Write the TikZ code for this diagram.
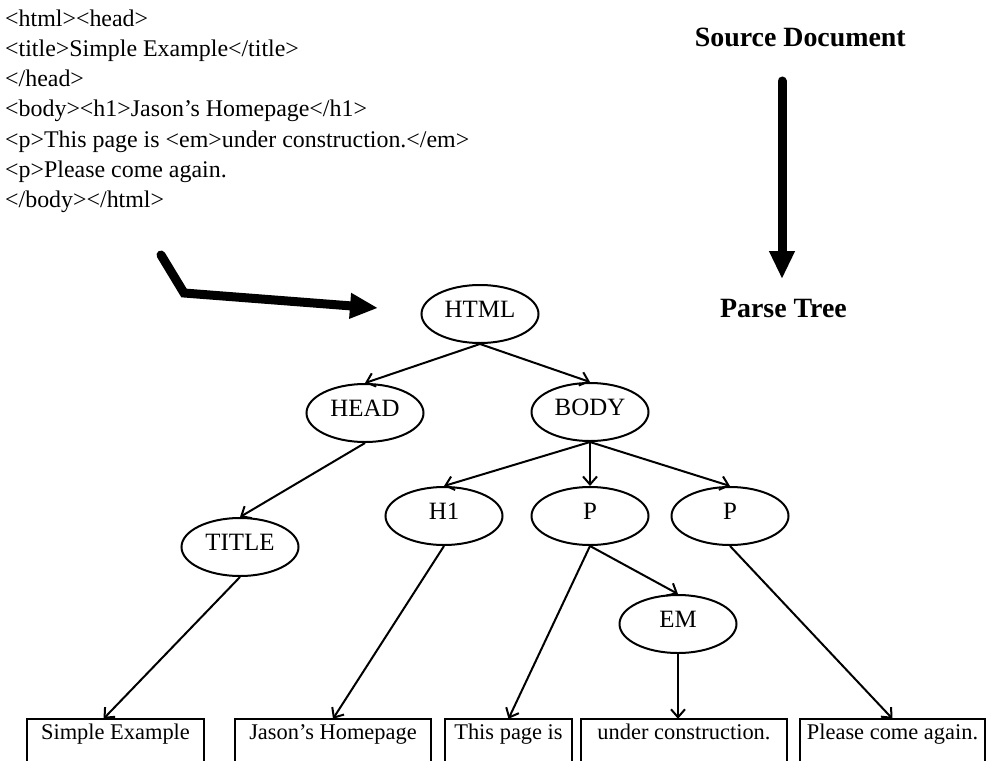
\documentclass[tikz,border=0pt]{standalone}
\usepackage{fontspec}
\setmainfont{Liberation Serif}
\usetikzlibrary{shapes.geometric,arrows.meta}
\begin{document}
\begin{tikzpicture}[x=1bp,y=-1bp,
  elem/.style={ellipse,draw,line width=2bp,minimum width=117bp,minimum height=58bp,
    inner sep=0pt,font=\fontsize{25}{25}\selectfont,text height=17bp,text depth=11bp},
  leaf/.style={rectangle,inner sep=0pt,minimum height=44bp,
    font=\fontsize{22.5}{22.5}\selectfont,text height=15bp,text depth=18bp},
  leafline/.style={line width=2bp},
  edge/.style={line width=2bp,-{Straight Barb[length=8bp,width=14bp,line width=2bp]}},
  bigarrow/.style={line width=9bp,line cap=round,line join=miter,
    -{Triangle[length=28bp,width=24bp]}},
  heading/.style={font=\fontsize{28}{28}\selectfont\bfseries,inner sep=0pt,anchor=base east},
  code/.style={font=\fontsize{24}{30.3}\selectfont,align=left,inner sep=0pt,anchor=north west}
]
\useasboundingbox (0,0) rectangle (988,761);

% HTML source listing
\node[code] (src) at (5,9.5) {<html><head>\\
<title>Simple Example</title>\\
</head>\\
<body><h1>Jason’s Homepage</h1>\\
<p>This page is <em>under construction.</em>\\
<p>Please come again.\\
</body></html>};

% headings and the thick arrows
\node[heading] (srcdoc) at (906,47) {Source Document};
\node[heading] (parse) at (847,317) {Parse Tree};
\coordinate (vtop) at (782,81);
\coordinate (vtip) at (782,279);
\draw[bigarrow] (vtop) -- (vtip);
\coordinate (bstart) at (161,255);
\coordinate (bbend) at (184,293);
\coordinate (btip) at (378,308);
\draw[bigarrow] (bstart) -- (bbend) -- (btip);

% element nodes
\node[elem] (html)  at (480,314) {HTML};
\node[elem] (head)  at (365,413) {HEAD};
\node[elem] (body)  at (590,412) {BODY};
\node[elem] (title) at (240,547) {TITLE};
\node[elem] (h1)    at (444,516) {H1};
\node[elem] (p1)    at (590,516) {P};
\node[elem] (p2)    at (730,516) {P};
\node[elem] (em)    at (678,624) {EM};

% text leaves
\node[leaf,minimum width=177bp] (b1) at (115.5,741) {Simple Example};
\node[leaf,minimum width=196bp] (b2) at (333,741) {Jason’s Homepage};
\node[leaf,minimum width=127bp] (b3) at (508.5,741) {This page is};
\node[leaf,minimum width=206bp] (b4) at (684,741) {under construction.};
\node[leaf,minimum width=185bp] (b5) at (892.5,741) {Please come again.};
\foreach \b in {b1,b2,b3,b4,b5}
  \draw[leafline] (\b.south west) |- (\b.north east) -- (\b.south east);

% tree edges
\draw[edge] (html.south) -- (head.north);
\draw[edge] (html.south) -- (body.north);
\draw[edge] (head.south) -- (title.north);
\draw[edge] (body.south) -- (h1.north);
\draw[edge] (body.south) -- (p1.north);
\draw[edge] (body.south) -- (p2.north);
\draw[edge] (p1.south) -- (em.north);
\draw[edge] (title.south) -- ([xshift=-12bp]b1.north);
\draw[edge] (h1.south) -- (b2.north);
\draw[edge] (p1.south) -- (b3.north);
\draw[edge] (em.south) -- (em.south |- b4.north);
\draw[edge] (p2.south) -- (b5.north);
\end{tikzpicture}
\end{document}
